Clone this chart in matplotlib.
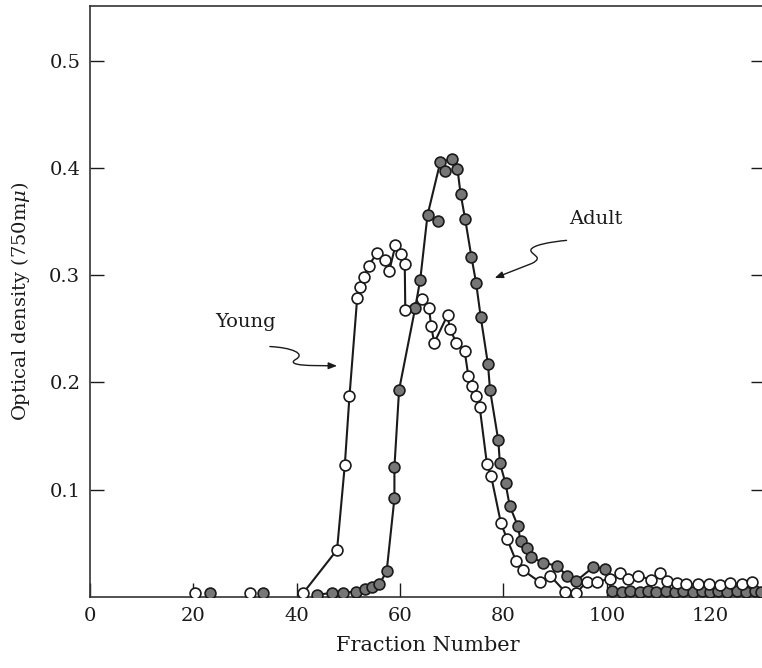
import matplotlib
matplotlib.use("Agg")
import matplotlib.pyplot as plt
from matplotlib.path import Path
from matplotlib.patches import FancyArrowPatch
import numpy as np

# ---------------- data ----------------
young_frac = [20.3, 30.9, 41.3, 47.8, 49.3, 50.2, 51.7, 52.2, 53.0, 53.9,
              55.6, 57.1, 57.9, 59.1, 60.1, 60.9, 61.0, 64.3, 65.6, 66.0,
              66.6, 69.2, 69.6, 70.9, 72.5, 73.2, 74.0, 74.7, 75.4, 76.8,
              77.6, 79.5, 80.7, 82.4, 83.8, 87.0, 89.0, 91.9, 94.1, 96.1,
              98.0, 100.6, 102.5, 104.1, 106.1, 108.5, 110.3, 111.7, 113.5, 115.4,
              117.7, 119.8, 121.9, 123.9, 126.1, 128.1]
young_od = [0.004, 0.004, 0.004, 0.044, 0.123, 0.187, 0.279, 0.289, 0.298, 0.309,
            0.321, 0.314, 0.304, 0.328, 0.320, 0.310, 0.268, 0.278, 0.269, 0.253,
            0.237, 0.263, 0.250, 0.237, 0.229, 0.206, 0.197, 0.187, 0.177, 0.124,
            0.113, 0.069, 0.054, 0.034, 0.025, 0.014, 0.020, 0.005, 0.004, 0.014,
            0.014, 0.017, 0.022, 0.017, 0.020, 0.016, 0.022, 0.015, 0.013, 0.012,
            0.012, 0.012, 0.011, 0.013, 0.012, 0.014]
young_line_from = 2          # first point joined by the drawn curve

adult_frac = [23.2, 33.5, 44.0, 46.9, 48.9, 51.5, 53.2, 54.5, 56.0, 57.4,
              58.9, 58.9, 59.8, 62.9, 63.9, 65.3, 67.3, 67.8, 68.7, 70.0,
              71.1, 71.7, 72.6, 73.8, 74.7, 75.6, 77.0, 77.4, 79.0, 79.3,
              80.4, 81.2, 82.8, 83.3, 84.6, 85.4, 87.7, 90.4, 92.2, 94.1,
              97.4, 99.6, 101.0, 102.9, 104.4, 106.4, 108.0, 109.6, 111.5, 113.1,
              114.8, 116.7, 118.4, 120.0, 121.5, 123.2, 125.1, 127.0, 128.6, 129.9]
adult_od = [0.004, 0.004, 0.002, 0.004, 0.004, 0.005, 0.007, 0.009, 0.012, 0.024,
            0.092, 0.121, 0.193, 0.269, 0.296, 0.356, 0.351, 0.406, 0.397, 0.408,
            0.399, 0.376, 0.352, 0.317, 0.293, 0.261, 0.217, 0.193, 0.146, 0.125,
            0.106, 0.085, 0.066, 0.052, 0.046, 0.037, 0.032, 0.029, 0.020, 0.015,
            0.028, 0.026, 0.006, 0.005, 0.006, 0.005, 0.006, 0.005, 0.006, 0.005,
            0.006, 0.005, 0.006, 0.005, 0.006, 0.005, 0.006, 0.005, 0.006, 0.005]
adult_line_from = 2
adult_off_curve = [67.3, 68.7]   # points lying beside the hand-drawn curve

x_ticks = [0, 20, 40, 60, 80, 100, 120]
y_ticks = [0.1, 0.2, 0.3, 0.4, 0.5]

# ---------------- style ----------------
plt.rcParams['font.family'] = ['DejaVu Serif']
plt.rcParams['mathtext.fontset'] = 'dejavuserif'

fig = plt.figure(figsize=(7.62, 6.68), dpi=100)
# right spine falls just outside the canvas, as in the scanned original
ax = fig.add_axes([90/762, 71/668, 675/762, 591/668])

ax.set_xlim(0, 130.6)
ax.set_ylim(0, 0.551)

ink = '#1a1a1a'

# curves
yf = np.array(young_frac); yo = np.array(young_od)
ax.plot(yf[young_line_from:], yo[young_line_from:], color=ink, lw=1.5, zorder=2)

af = np.array(adult_frac); ao = np.array(adult_od)
mask = np.ones(len(af), bool)
mask[:adult_line_from] = False
for v in adult_off_curve:
    mask &= ~np.isclose(af, v)
ax.plot(af[mask], ao[mask], color=ink, lw=1.5, zorder=2)

# markers
ax.plot(af, ao, linestyle='none', marker='o', ms=7.8, mfc='#767676',
        mec=ink, mew=1.2, zorder=3)
ax.plot(yf, yo, linestyle='none', marker='o', ms=7.8, mfc='white',
        mec=ink, mew=1.2, zorder=4)

# ticks and spines
ax.set_xticks(x_ticks)
ax.set_xticklabels([str(t) for t in x_ticks])
ax.set_yticks(y_ticks)
ax.set_yticklabels([f"{t:.1f}" for t in y_ticks])
ax.tick_params(axis='both', direction='in', length=10, width=1.0,
               colors=ink, labelsize=14, pad=7)
ax.tick_params(axis='y', right=True)
for s in ax.spines.values():
    s.set_color('#333333')
    s.set_linewidth(1.2)

ax.set_xlabel('Fraction Number', fontsize=15, color=ink, labelpad=8)
ax.set_ylabel(r'Optical density (750m$\mu$)', fontsize=14, color=ink, labelpad=12)

# labels with wavy arrows
ax.text(30.0, 0.256, 'Young', fontsize=14, color=ink, ha='center', va='center')
ax.text(97.9, 0.352, 'Adult', fontsize=14, color=ink, ha='center', va='center')

young_path = Path([(34.8, 0.2335), (39.0, 0.2325), (41.8, 0.2270), (39.8, 0.2215),
                   (38.2, 0.2170), (41.0, 0.2160), (43.0, 0.2158), (47.8, 0.2155)],
                  [Path.MOVETO, Path.CURVE4, Path.CURVE4, Path.CURVE4,
                   Path.CURVE4, Path.CURVE4, Path.CURVE4, Path.LINETO])
ax.add_patch(FancyArrowPatch(path=young_path, arrowstyle='-|>,head_length=5,head_width=2',
                             color=ink, lw=1.0, transform=ax.transData, zorder=5))

adult_path = Path([(92.2, 0.3325), (89.0, 0.3310), (85.5, 0.3280), (85.3, 0.3235),
                   (85.2, 0.3190), (88.0, 0.3170), (85.5, 0.3110), (78.3, 0.2974)],
                  [Path.MOVETO, Path.CURVE4, Path.CURVE4, Path.CURVE4,
                   Path.CURVE4, Path.CURVE4, Path.CURVE4, Path.LINETO])
ax.add_patch(FancyArrowPatch(path=adult_path, arrowstyle='-|>,head_length=5,head_width=2',
                             color=ink, lw=1.0, transform=ax.transData, zorder=5))

fig.savefig('out.png', dpi=100)
